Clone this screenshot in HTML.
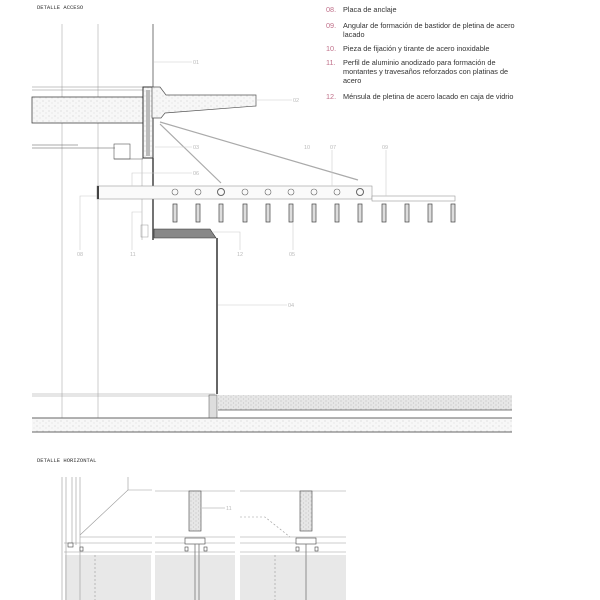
<!DOCTYPE html>
<html><head><meta charset="utf-8"><style>
html,body{margin:0;padding:0;background:#fff;width:600px;height:600px;overflow:hidden}
svg{display:block}
.t{font-family:"Liberation Sans",sans-serif;font-size:7.3px;fill:#333}
.n{font-family:"Liberation Sans",sans-serif;font-size:7.3px;fill:#c0708a}
.l{font-family:"Liberation Sans",sans-serif;font-size:5.5px;fill:#bbb}
.h{font-family:"Liberation Mono",monospace;font-size:5.5px;fill:#333}
</style></head><body>
<svg width="600" height="600" viewBox="0 0 600 600" xmlns="http://www.w3.org/2000/svg">
<defs>
<pattern id="dots" width="6" height="5" patternUnits="userSpaceOnUse">
<rect width="6" height="5" fill="#f7f7f7"/>
<circle cx="1" cy="1" r="0.4" fill="#999"/><circle cx="4" cy="3" r="0.35" fill="#aaa"/>
</pattern>
<pattern id="dots2" width="5" height="4" patternUnits="userSpaceOnUse">
<rect width="5" height="4" fill="#e6e6e6"/>
<circle cx="1" cy="1" r="0.4" fill="#888"/><circle cx="3.5" cy="3" r="0.4" fill="#999"/>
</pattern>
</defs>
<text x="37" y="9" class="h">DETALLE ACCESO</text>
<!-- legend -->
<text x="326" y="12" class="n">08.</text><text x="343" y="12" class="t">Placa de anclaje</text>
<text x="326" y="28" class="n">09.</text><text x="343" y="28" class="t">Angular de formación de bastidor de pletina de acero</text>
<text x="343" y="37" class="t">lacado</text>
<text x="326" y="51" class="n">10.</text><text x="343" y="51" class="t">Pieza de fijación y tirante de acero inoxidable</text>
<text x="326" y="65" class="n">11.</text><text x="343" y="65" class="t">Perfil de aluminio anodizado para formación de</text>
<text x="343" y="74" class="t">montantes y travesaños reforzados con platinas de</text>
<text x="343" y="83" class="t">acero</text>
<text x="326" y="99" class="n">12.</text><text x="343" y="99" class="t">Ménsula de pletina de acero lacado en caja de vidrio</text>

<!-- verticals -->
<g stroke="#ccc" stroke-width="1">
<line x1="62" y1="24" x2="62" y2="420"/><line x1="98" y1="24" x2="98" y2="420"/>
</g>
<line x1="153" y1="24" x2="153" y2="88" stroke="#777" stroke-width="1"/>
<!-- slab -->
<g stroke="#888" stroke-width="0.6"><line x1="32" y1="87" x2="145" y2="87"/><line x1="32" y1="90" x2="145" y2="90"/></g>
<rect x="32" y="97" width="112" height="26" fill="url(#dots)" stroke="#444" stroke-width="0.8"/>
<rect x="143" y="87" width="10" height="71" fill="url(#dots)" stroke="#333" stroke-width="1"/>
<rect x="146" y="90" width="4" height="66" fill="#bbb"/>
<polygon points="152,87 160,87 166,95 256,95 256,106 165,113 161,118 152,118" fill="url(#dots)" stroke="#555" stroke-width="0.7"/>
<!-- small box -->
<g stroke="#555" stroke-width="0.6" fill="none">
<line x1="32" y1="145" x2="78" y2="145"/><line x1="32" y1="148" x2="115" y2="148"/>
<rect x="114" y="144" width="16" height="15"/><line x1="114" y1="159" x2="143" y2="159"/>
</g>
<!-- tie rods -->
<g stroke="#aaa" stroke-width="1.2"><line x1="160" y1="122" x2="358" y2="180"/><line x1="160" y1="124" x2="221" y2="183"/></g>
<!-- wall -->
<line x1="153" y1="158" x2="153" y2="240" stroke="#444" stroke-width="1.5"/>
<line x1="142" y1="158" x2="142" y2="240" stroke="#aaa" stroke-width="0.6"/>
<rect x="141" y="225" width="7" height="12" fill="none" stroke="#999" stroke-width="0.5"/>
<polygon points="154,229 210,229 216,238 154,238" fill="#888" stroke="#333" stroke-width="0.6"/>
<line x1="217" y1="238" x2="217" y2="394" stroke="#666" stroke-width="2"/>
<!-- beam -->
<rect x="97" y="186" width="275" height="13" fill="#fafafa" stroke="#999" stroke-width="0.6"/>
<rect x="97" y="186" width="2" height="13" fill="#444"/>
<rect x="372" y="196" width="83" height="5" fill="#fff" stroke="#999" stroke-width="0.6"/>
<g fill="none" stroke="#666" stroke-width="0.6">
<circle cx="175" cy="192" r="3"/><circle cx="198" cy="192" r="3"/><circle cx="221" cy="192" r="3.5" stroke-width="1"/><circle cx="245" cy="192" r="3"/><circle cx="268" cy="192" r="3"/><circle cx="291" cy="192" r="3"/><circle cx="314" cy="192" r="3"/><circle cx="337" cy="192" r="3"/><circle cx="360" cy="192" r="3.5" stroke-width="1"/>
</g>
<g fill="#ddd" stroke="#444" stroke-width="0.7">
<rect x="173" y="204" width="4" height="18"/><rect x="196" y="204" width="4" height="18"/><rect x="219" y="204" width="4" height="18"/><rect x="243" y="204" width="4" height="18"/><rect x="266" y="204" width="4" height="18"/><rect x="289" y="204" width="4" height="18"/><rect x="312" y="204" width="4" height="18"/><rect x="335" y="204" width="4" height="18"/><rect x="358" y="204" width="4" height="18"/><rect x="382" y="204" width="4" height="18"/><rect x="405" y="204" width="4" height="18"/><rect x="428" y="204" width="4" height="18"/><rect x="451" y="204" width="4" height="18"/>
</g>
<!-- leaders -->
<g stroke="#ccc" stroke-width="0.6" fill="none">
<line x1="154" y1="62" x2="192" y2="62"/><line x1="256" y1="100" x2="292" y2="100"/>
<line x1="155" y1="147" x2="192" y2="147"/><polyline points="132,186 132,173 192,173"/>
<polyline points="97,196 80,196 80,250"/><polyline points="142,212 132,212 132,250"/>
<polyline points="212,232 240,232 240,250"/><line x1="293" y1="222" x2="293" y2="250"/>
<line x1="332" y1="150" x2="332" y2="186"/><line x1="244" y1="186" x2="244" y2="186"/>
<line x1="386" y1="150" x2="386" y2="196"/><line x1="218" y1="305" x2="287" y2="305"/>
</g>
<g class="l">
<text x="193" y="64" class="l">01</text><text x="293" y="102" class="l">02</text><text x="193" y="149" class="l">03</text><text x="193" y="175" class="l">06</text>
<text x="77" y="256" class="l">08</text><text x="130" y="256" class="l">11</text><text x="237" y="256" class="l">12</text><text x="289" y="256" class="l">05</text>
<text x="304" y="149" class="l">10</text><text x="330" y="149" class="l">07</text><text x="382" y="149" class="l">09</text><text x="288" y="307" class="l">04</text>
</g>
<!-- floor -->
<g stroke="#999" stroke-width="0.6"><line x1="32" y1="394" x2="215" y2="394"/><line x1="32" y1="396" x2="215" y2="396"/></g>
<rect x="218" y="395" width="294" height="15" fill="url(#dots2)"/>
<line x1="218" y1="410" x2="512" y2="410" stroke="#555" stroke-width="0.8"/>
<rect x="209" y="395" width="8" height="23" fill="#ddd" stroke="#555" stroke-width="0.5"/>
<rect x="32" y="418" width="480" height="14" fill="url(#dots)"/>
<line x1="32" y1="418" x2="512" y2="418" stroke="#666" stroke-width="0.9"/>
<line x1="32" y1="432" x2="512" y2="432" stroke="#666" stroke-width="0.9"/>

<!-- horizontal detail -->
<text x="37" y="462" class="h">DETALLE HORIZONTAL</text>
<g fill="#e8e8e8">
<rect x="65" y="555" width="86" height="45"/><rect x="155" y="555" width="80" height="45"/><rect x="240" y="555" width="106" height="45"/>
</g>
<g stroke="#999" stroke-width="0.6" fill="none">
<line x1="62" y1="477" x2="62" y2="600"/><line x1="66" y1="477" x2="66" y2="600"/><line x1="72" y1="477" x2="72" y2="545"/><line x1="76" y1="477" x2="76" y2="545"/><line x1="80" y1="477" x2="80" y2="600"/>
<line x1="128" y1="477" x2="128" y2="490"/><line x1="128" y1="490" x2="80" y2="535"/>
<line x1="128" y1="490" x2="152" y2="490"/><line x1="155" y1="491" x2="235" y2="491"/><line x1="240" y1="491" x2="346" y2="491"/>
<line x1="80" y1="537" x2="152" y2="537"/><line x1="155" y1="537" x2="235" y2="537"/><line x1="240" y1="537" x2="346" y2="537"/>
<line x1="64" y1="543" x2="152" y2="543"/><line x1="155" y1="543" x2="235" y2="543"/><line x1="240" y1="543" x2="346" y2="543"/>
<line x1="64" y1="552" x2="152" y2="552"/><line x1="155" y1="552" x2="235" y2="552"/><line x1="240" y1="552" x2="346" y2="552"/>
<line x1="202" y1="508" x2="225" y2="508"/><polyline points="240,517 265,517 290,537" stroke-dasharray="2,2"/>
<polyline points="95,555 95,600" stroke-dasharray="2,2"/><polyline points="275,555 275,600" stroke-dasharray="2,2"/>
</g>
<g fill="url(#dots2)" stroke="#444" stroke-width="0.6">
<rect x="189" y="491" width="12" height="40"/><rect x="300" y="491" width="12" height="40"/>
</g>
<g fill="#fff" stroke="#444" stroke-width="0.6">
<rect x="185" y="538" width="20" height="6"/><rect x="296" y="538" width="20" height="6"/>
<rect x="68" y="543" width="5" height="4"/><rect x="80" y="547" width="3" height="4"/><rect x="185" y="547" width="3" height="4"/><rect x="204" y="547" width="3" height="4"/><rect x="296" y="547" width="3" height="4"/><rect x="315" y="547" width="3" height="4"/>
</g>
<g stroke="#777" stroke-width="0.8"><line x1="195" y1="544" x2="195" y2="600"/><line x1="199" y1="544" x2="199" y2="600"/><line x1="306" y1="544" x2="306" y2="600"/></g>
<text x="226" y="510" class="l">11</text>
</svg>
</body></html>
